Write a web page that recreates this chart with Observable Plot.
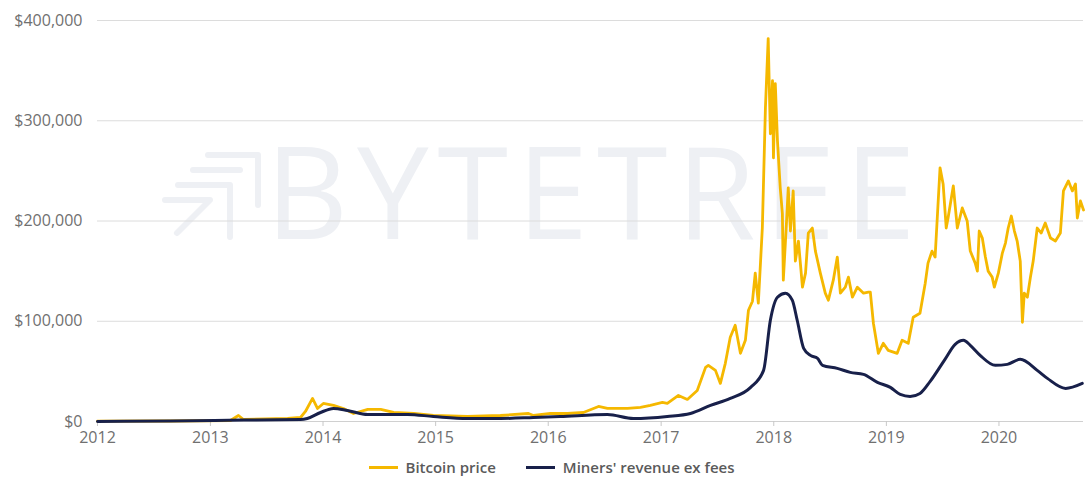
<!DOCTYPE html>
<html>
<head>
<meta charset="utf-8">
<script src="https://cdn.jsdelivr.net/npm/d3@7"></script>
<script src="https://cdn.jsdelivr.net/npm/@observablehq/plot@0.6"></script>
<style>
  html, body { margin: 0; padding: 0; background: #fff; }
  #wrap { position: relative; width: 1085px; }
  .legend { display: flex; justify-content: center; align-items: center; gap: 0; font-family: "Open Sans", sans-serif; font-size: 15px; font-weight: 600; color: #5a5a5a; margin-top: 5px; padding-left: 18px; }
  .legend .item { display: flex; align-items: center; margin: 0 15px; }
  .legend .sw { width: 29px; height: 3px; margin-right: 8px; display: inline-block; }
</style>
</head>
<body>
<div id="wrap"></div>
<script>
// ---- data ----
const seriesNames = ["Bitcoin price", "Miners' revenue ex fees"];
const seriesColors = ["#F5B800", "#18204A"];
const yearTicks = [2012, 2013, 2014, 2015, 2016, 2017, 2018, 2019, 2020];
const yTicks = [0, 100000, 200000, 300000, 400000];
const watermark = "BYTETREE";

const btcDates = ["2012-01-01","2012-08-24","2013-03-07","2013-04-02","2013-04-18","2013-09-08","2013-10-20","2013-11-05","2013-11-28","2013-12-14","2014-01-02","2014-02-04","2014-03-08","2014-04-10","2014-05-26","2014-07-07","2014-08-18","2014-10-22","2014-12-25","2015-04-14","2015-07-30","2015-10-29","2015-11-14","2016-01-08","2016-03-03","2016-04-24","2016-06-12","2016-07-11","2016-09-14","2016-10-26","2016-11-27","2017-01-05","2017-01-21","2017-02-26","2017-03-27","2017-04-28","2017-05-25","2017-06-03","2017-06-26","2017-07-12","2017-07-28","2017-08-13","2017-08-29","2017-09-15","2017-10-01","2017-10-11","2017-10-24","2017-11-02","2017-11-12","2017-11-25","2017-12-05","2017-12-14","2017-12-21","2017-12-28","2017-12-31","2018-01-06","2018-01-13","2018-01-22","2018-01-29","2018-02-01","2018-02-11","2018-02-17","2018-02-24","2018-03-05","2018-03-12","2018-03-22","2018-04-04","2018-04-14","2018-04-23","2018-05-06","2018-05-16","2018-06-01","2018-06-17","2018-06-27","2018-07-13","2018-07-26","2018-08-05","2018-08-21","2018-08-31","2018-09-13","2018-09-29","2018-10-19","2018-11-04","2018-11-10","2018-11-20","2018-12-06","2018-12-22","2019-01-07","2019-02-05","2019-02-21","2019-03-13","2019-03-29","2019-04-20","2019-05-07","2019-05-16","2019-05-29","2019-06-08","2019-06-15","2019-06-24","2019-07-04","2019-07-14","2019-07-20","2019-08-06","2019-08-19","2019-09-04","2019-09-20","2019-09-30","2019-10-16","2019-10-23","2019-10-29","2019-11-08","2019-11-18","2019-11-27","2019-12-10","2019-12-17","2019-12-30","2020-01-12","2020-01-22","2020-01-31","2020-02-10","2020-02-20","2020-02-29","2020-03-10","2020-03-17","2020-03-23","2020-04-02","2020-04-12","2020-04-21","2020-05-04","2020-05-17","2020-05-30","2020-06-16","2020-07-02","2020-07-18","2020-07-28","2020-08-13","2020-08-26","2020-09-05","2020-09-11","2020-09-21","2020-10-01"];
const btcValues = [300,500,1000,6000,2000,3000,4000,10000,23000,13000,18000,16000,13000,8000,12000,12000,9000,8000,6000,5000,6000,8000,6000,8000,8000,9000,15000,13000,13000,14000,16000,19000,18000,26000,22000,31000,54000,56000,51000,38000,58000,84000,96000,68000,81000,111000,120000,148000,118000,193000,313000,382000,287000,340000,263000,337000,280000,233000,207000,141000,197000,233000,190000,230000,160000,180000,134000,148000,188000,193000,170000,148000,128000,121000,141000,164000,128000,134000,144000,124000,134000,128000,129000,129000,98000,68000,78000,71000,68000,81000,78000,104000,108000,138000,158000,170000,164000,203000,253000,237000,193000,203000,235000,193000,213000,200000,170000,158000,150000,190000,183000,164000,150000,144000,134000,148000,168000,178000,193000,205000,190000,180000,160000,99000,128000,124000,144000,160000,193000,188000,198000,183000,180000,188000,230000,240000,230000,237000,203000,220000,211000];

const revDates = ["2012-01-01","2012-08-24","2013-04-18","2013-10-20","2013-11-11","2013-12-24","2014-02-04","2014-03-21","2014-05-26","2014-07-29","2014-10-02","2014-12-25","2015-04-14","2015-07-30","2015-11-14","2016-02-09","2016-07-11","2016-10-03","2017-01-21","2017-04-06","2017-06-10","2017-08-13","2017-10-18","2017-11-29","2017-12-21","2018-01-13","2018-02-08","2018-03-02","2018-03-18","2018-04-08","2018-04-30","2018-05-23","2018-06-08","2018-07-26","2018-09-06","2018-10-19","2018-12-03","2019-01-14","2019-02-15","2019-03-19","2019-04-20","2019-05-23","2019-07-10","2019-08-12","2019-09-08","2019-09-30","2019-11-01","2019-12-20","2020-01-28","2020-03-10","2020-05-04","2020-06-06","2020-08-04","2020-09-27"];
const revValues = [0,500,1500,2000,3000,9000,13000,11000,7000,7000,7000,5000,3000,3000,4000,5000,7000,3000,5000,8000,16000,23000,34000,51000,101000,124000,128000,121000,101000,73000,66000,63000,56000,53000,49000,47000,39000,34000,27000,25000,28000,40000,62000,77000,81000,76000,66000,56000,57000,62000,51000,43000,33000,38000];

// ---- build ----
const rows = [];
btcDates.forEach((d, i) => rows.push({date: new Date(d), value: btcValues[i], series: seriesNames[0]}));
revDates.forEach((d, i) => rows.push({date: new Date(d), value: revValues[i], series: seriesNames[1]}));

const fmt = d3.format(",");
const font = '"Open Sans", sans-serif';

const chart = Plot.plot({
  width: 1085,
  height: 452,
  marginLeft: 97,
  marginRight: 2,
  marginTop: 20,
  marginBottom: 31,
  style: {fontFamily: font, fontSize: "16px", color: "#707070", background: "#fff", overflow: "visible"},
  x: {type: "utc", domain: [new Date("2012-01-01"), new Date("2020-10-01")]},
  y: {domain: [0, 400000]},
  color: {domain: seriesNames, range: seriesColors},
  marks: [
    Plot.text([watermark], {frameAnchor: "middle", dx: 0, dy: -23, fontSize: 128, fontWeight: 400, fill: "#eef0f4", fontFamily: font, className: "wm"}),
    Plot.gridY(yTicks, {stroke: "#dcdcdc", strokeOpacity: 1}),
    Plot.axisY(yTicks, {tickSize: 0, tickPadding: 15, tickFormat: d => "$" + fmt(d), label: null, fontSize: 16}),
    Plot.ruleY([0], {stroke: "#d0d0d0"}),
    Plot.axisX(yearTicks.map(y => new Date(Date.UTC(y, 0, 1))), {tickSize: 5, tickPadding: 5, stroke: "#c8c8c8", tickFormat: d3.utcFormat("%Y"), label: null, fontSize: 16}),
    Plot.line(rows.filter(r => r.series === seriesNames[0]), {x: "date", y: "value", stroke: "series", strokeWidth: 2.8}),
    Plot.line(rows.filter(r => r.series === seriesNames[1]), {x: "date", y: "value", stroke: "series", strokeWidth: 3, curve: "monotone-x"})
  ]
});

// spread the watermark letters to the reference width
d3.select(chart).selectAll("g.wm text").attr("textLength", 650).attr("lengthAdjust", "spacing");

// watermark logo (decoration) inserted behind the data
const ns = "http://www.w3.org/2000/svg";
const g = document.createElementNS(ns, "g");
g.setAttribute("fill", "none");
g.setAttribute("stroke", "#eef0f4");
g.setAttribute("stroke-width", "6");
g.setAttribute("stroke-linecap", "round");
g.setAttribute("stroke-linejoin", "round");
["M208,155 H258 V205", "M193,170 H240", "M178,185 H230 V237", "M165,200 H210 L177,233"].forEach(p => {
  const path = document.createElementNS(ns, "path");
  path.setAttribute("d", p);
  g.appendChild(path);
});
chart.insertBefore(g, chart.firstChild.nextSibling);

const wrap = document.getElementById("wrap");
wrap.appendChild(chart);

const legend = document.createElement("div");
legend.className = "legend";
seriesNames.forEach((n, i) => {
  const item = document.createElement("div");
  item.className = "item";
  const sw = document.createElement("span");
  sw.className = "sw";
  sw.style.background = seriesColors[i];
  const t = document.createElement("span");
  t.textContent = n;
  item.appendChild(sw);
  item.appendChild(t);
  legend.appendChild(item);
});
wrap.appendChild(legend);
</script>
</body>
</html>
